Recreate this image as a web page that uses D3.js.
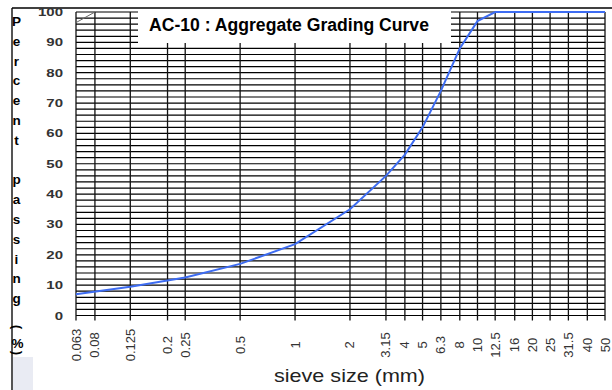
<!DOCTYPE html>
<html>
<head>
<meta charset="utf-8">
<script src="https://cdn.jsdelivr.net/npm/d3@7"></script>
<style>
  body { margin: 0; background: #fff; }
  svg { display: block; font-family: Arial, "Liberation Sans", sans-serif; }
</style>
</head>
<body>
<script>
// sieve sizes (mm) shown on the x axis
var sieves = [0.063, 0.08, 0.125, 0.2, 0.25, 0.5, 1, 2, 3.15, 4, 5, 6.3, 8, 10, 12.5, 16, 20, 25, 31.5, 40, 50];
var sieveLabels = ["0.063", "0.08", "0.125", "0.2", "0.25", "0.5", "1", "2", "3.15", "4", "5", "6.3", "8", "10", "12.5", "16", "20", "25", "31.5", "40", "50"];

// grading curve, percent passing
var curveSize    = [0.063, 0.125, 0.25, 0.5, 1, 2, 3.15, 4, 5, 6.3, 8, 10, 12.5, 50];
var curvePassing = [7, 9.5, 12.5, 17, 23.5, 35, 46, 53, 62, 74, 88, 97, 100, 100];

// short limit segment in the top-left corner
var limitSize    = [0.063, 0.08];
var limitPassing = [96.5, 100];

var yTicks = [0, 10, 20, 30, 40, 50, 60, 70, 80, 90, 100];
var yLabel = "Percent passing";

var W = 612, H = 390;
var svg = d3.select("body").append("svg").attr("width", W).attr("height", H);

var x = d3.scaleLog().domain([0.063, 50]).range([76, 605]);
var y = d3.scaleLinear().domain([0, 100]).range([315.5, 12]);

/* left panel */
svg.append("rect").attr("x", 12).attr("y", 357).attr("width", 21).attr("height", H - 357).attr("fill", "#e9ebf3");
svg.append("line").attr("x1", 12).attr("x2", 12).attr("y1", 8).attr("y2", H)
  .attr("stroke", "#555").attr("stroke-width", 2);
svg.append("line").attr("x1", 12).attr("x2", W).attr("y1", 8).attr("y2", 8)
  .attr("stroke", "#000").attr("stroke-width", 1.5);

/* grid */
var grid = svg.append("g");
grid.selectAll("line.h").data(d3.range(0, 101, 2)).enter().append("line")
  .attr("x1", x(0.063)).attr("x2", x(50))
  .attr("y1", function(d){ return y(d); }).attr("y2", function(d){ return y(d); })
  .attr("stroke", "#000").attr("stroke-width", 1.2);
grid.selectAll("line.v").data(sieves).enter().append("line")
  .attr("x1", function(d){ return x(d); }).attr("x2", function(d){ return x(d); })
  .attr("y1", y(100)).attr("y2", y(0) + 5)
  .attr("stroke", "#111").attr("stroke-width", 1.3);

/* title box */
svg.append("rect").attr("x", 138).attr("y", 9).attr("width", 313).attr("height", 34).attr("fill", "#fff");
svg.append("text").attr("x", 149).attr("y", 30.5)
  .attr("font-size", 17.6).attr("font-weight", "bold").attr("fill", "#000")
  .text("AC-10 : Aggregate Grading Curve");

/* curves */
var line = d3.line().x(function(d){ return x(d[0]); }).y(function(d){ return y(d[1]); });
svg.append("path").datum(d3.zip(limitSize, limitPassing)).attr("d", line)
  .attr("fill", "none").attr("stroke", "#666").attr("stroke-width", 1);
svg.append("path").datum(d3.zip(curveSize, curvePassing)).attr("d", line)
  .attr("fill", "none").attr("stroke", "#3d6cf2").attr("stroke-width", 2);

/* y tick labels */
svg.selectAll("text.yt").data(yTicks).enter().append("text")
  .attr("transform", function(d){ return "translate(63," + (y(d) + 4) + ") scale(1.5,1)"; })
  .attr("text-anchor", "end").attr("font-size", 10).attr("font-weight", "bold")
  .attr("fill", "#333").text(function(d){ return d; });

/* x tick labels */
svg.selectAll("text.xt").data(sieves).enter().append("text")
  .attr("transform", function(d){ return "translate(" + (x(d) + 4.5) + ",345) rotate(-90)"; })
  .attr("text-anchor", "middle").attr("font-size", 13).attr("fill", "#333")
  .text(function(d, i){ return sieveLabels[i]; });

/* x axis title */
svg.append("text").attr("x", 274).attr("y", 382)
  .attr("font-size", 19).attr("fill", "#222")
  .attr("textLength", 151).attr("lengthAdjust", "spacingAndGlyphs")
  .text("sieve size (mm)");

/* vertical y label, one letter per row */
yLabel.split("").forEach(function(c, i){
  if (c === " ") return;
  svg.append("text").attr("x", 16.5).attr("y", 26 + i * 19.8)
    .attr("text-anchor", "middle").attr("font-size", 13.5).attr("font-weight", "bold")
    .text(c);
});
[["(", 327], ["%", 343], [")", 353]].forEach(function(p){
  var t = svg.append("text").attr("font-size", 13.5).attr("font-weight", "bold")
    .attr("text-anchor", "middle").text(p[0]);
  if (p[0] === "%") t.attr("x", 17.5).attr("y", p[1] + 5);
  else t.attr("transform", "translate(17.5," + p[1] + ") rotate(90)").attr("dy", "0.35em");
});
</script>
</body>
</html>
